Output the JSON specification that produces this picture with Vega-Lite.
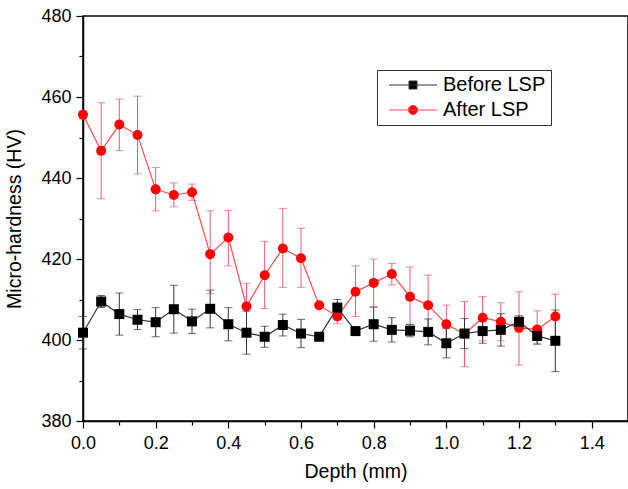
{
  "$schema": "https://vega.github.io/schema/vega-lite/v6.json",
  "width": 545,
  "height": 405,
  "autosize": {"type": "none"},
  "padding": {"left": 83, "top": 16, "right": 0, "bottom": 68},
  "background": "white",
  "config": {
    "view": {"stroke": "black", "strokeWidth": 1.5},
    "font": "Liberation Sans",
    "axis": {"domainColor": "black", "domainWidth": 1.5, "tickColor": "black", "tickWidth": 1.2, "labelColor": "black", "titleColor": "black", "labelFont": "Liberation Sans", "titleFont": "Liberation Sans", "labelFontSize": 18, "titleFontSize": 19.5, "titleFontWeight": "normal", "grid": false, "labelOverlap": false, "labelFlush": false},
    "legend": {"title": null, "orient": "none", "legendX": 294, "legendY": 54, "padding": 5,
      "strokeColor": "#333333", "fillColor": "white",
      "labelFont": "Liberation Sans", "labelFontSize": 20, "labelColor": "black",
      "symbolSize": 256, "symbolOffset": 21, "labelOffset": 20, "rowPadding": 5,
      "symbolOpacity": 1, "symbolStrokeWidth": 1}
  },
  "data": {"values": [
    {"s": "After LSP", "d": 0.0, "v": 455.6, "lo": 454.6, "hi": 456.6},
    {"s": "After LSP", "d": 0.05, "v": 446.7, "lo": 434.9, "hi": 458.6},
    {"s": "After LSP", "d": 0.1, "v": 453.2, "lo": 446.8, "hi": 459.5},
    {"s": "After LSP", "d": 0.15, "v": 450.6, "lo": 441.0, "hi": 460.2},
    {"s": "After LSP", "d": 0.2, "v": 437.2, "lo": 431.9, "hi": 442.6},
    {"s": "After LSP", "d": 0.25, "v": 435.8, "lo": 432.9, "hi": 438.8},
    {"s": "After LSP", "d": 0.3, "v": 436.5, "lo": 434.5, "hi": 438.5},
    {"s": "After LSP", "d": 0.35, "v": 421.2, "lo": 411.5, "hi": 431.9},
    {"s": "After LSP", "d": 0.4, "v": 425.3, "lo": 418.3, "hi": 432.0},
    {"s": "After LSP", "d": 0.45, "v": 408.3, "lo": 402.6, "hi": 414.0},
    {"s": "After LSP", "d": 0.5, "v": 416.0, "lo": 407.8, "hi": 424.3},
    {"s": "After LSP", "d": 0.55, "v": 422.6, "lo": 413.0, "hi": 432.5},
    {"s": "After LSP", "d": 0.6, "v": 420.2, "lo": 413.0, "hi": 427.6},
    {"s": "After LSP", "d": 0.65, "v": 408.6, "lo": 408.0, "hi": 409.2},
    {"s": "After LSP", "d": 0.7, "v": 405.8, "lo": 404.0, "hi": 407.6},
    {"s": "After LSP", "d": 0.75, "v": 411.9, "lo": 405.8, "hi": 418.3},
    {"s": "After LSP", "d": 0.8, "v": 414.1, "lo": 408.2, "hi": 420.0},
    {"s": "After LSP", "d": 0.85, "v": 416.3, "lo": 413.6, "hi": 418.9},
    {"s": "After LSP", "d": 0.9, "v": 410.7, "lo": 403.9, "hi": 418.0},
    {"s": "After LSP", "d": 0.95, "v": 408.6, "lo": 401.0, "hi": 416.0},
    {"s": "After LSP", "d": 1.0, "v": 403.9, "lo": 399.3, "hi": 408.6},
    {"s": "After LSP", "d": 1.05, "v": 401.5, "lo": 393.4, "hi": 409.5},
    {"s": "After LSP", "d": 1.1, "v": 405.5, "lo": 399.8, "hi": 410.7},
    {"s": "After LSP", "d": 1.15, "v": 404.5, "lo": 399.8, "hi": 409.2},
    {"s": "After LSP", "d": 1.2, "v": 403.0, "lo": 393.8, "hi": 411.9},
    {"s": "After LSP", "d": 1.25, "v": 402.6, "lo": 399.0, "hi": 407.2},
    {"s": "After LSP", "d": 1.3, "v": 405.8, "lo": 400.3, "hi": 411.3},
    {"s": "Before LSP", "d": 0.0, "v": 401.8, "lo": 397.8, "hi": 405.8},
    {"s": "Before LSP", "d": 0.05, "v": 409.5, "lo": 408.0, "hi": 411.0},
    {"s": "Before LSP", "d": 0.1, "v": 406.4, "lo": 401.2, "hi": 411.6},
    {"s": "Before LSP", "d": 0.15, "v": 405.0, "lo": 402.6, "hi": 407.5},
    {"s": "Before LSP", "d": 0.2, "v": 404.4, "lo": 400.8, "hi": 408.0},
    {"s": "Before LSP", "d": 0.25, "v": 407.6, "lo": 401.7, "hi": 413.5},
    {"s": "Before LSP", "d": 0.3, "v": 404.6, "lo": 401.6, "hi": 407.6},
    {"s": "Before LSP", "d": 0.35, "v": 407.7, "lo": 403.0, "hi": 412.3},
    {"s": "Before LSP", "d": 0.4, "v": 403.9, "lo": 399.8, "hi": 408.0},
    {"s": "Before LSP", "d": 0.45, "v": 401.8, "lo": 396.5, "hi": 407.1},
    {"s": "Before LSP", "d": 0.5, "v": 400.8, "lo": 398.2, "hi": 403.4},
    {"s": "Before LSP", "d": 0.55, "v": 403.7, "lo": 401.0, "hi": 406.4},
    {"s": "Before LSP", "d": 0.6, "v": 401.6, "lo": 398.1, "hi": 405.1},
    {"s": "Before LSP", "d": 0.65, "v": 400.8, "lo": 400.0, "hi": 401.6},
    {"s": "Before LSP", "d": 0.7, "v": 408.0, "lo": 406.0, "hi": 410.0},
    {"s": "Before LSP", "d": 0.75, "v": 402.2, "lo": 401.5, "hi": 402.9},
    {"s": "Before LSP", "d": 0.8, "v": 403.9, "lo": 399.7, "hi": 408.1},
    {"s": "Before LSP", "d": 0.85, "v": 402.5, "lo": 399.5, "hi": 405.5},
    {"s": "Before LSP", "d": 0.9, "v": 402.3, "lo": 400.8, "hi": 403.8},
    {"s": "Before LSP", "d": 0.95, "v": 402.0, "lo": 398.8, "hi": 405.2},
    {"s": "Before LSP", "d": 1.0, "v": 399.2, "lo": 395.6, "hi": 402.8},
    {"s": "Before LSP", "d": 1.05, "v": 401.6, "lo": 397.9, "hi": 405.3},
    {"s": "Before LSP", "d": 1.1, "v": 402.2, "lo": 399.2, "hi": 405.2},
    {"s": "Before LSP", "d": 1.15, "v": 402.5, "lo": 398.5, "hi": 406.5},
    {"s": "Before LSP", "d": 1.2, "v": 404.5, "lo": 403.0, "hi": 406.0},
    {"s": "Before LSP", "d": 1.25, "v": 401.0, "lo": 399.0, "hi": 403.0},
    {"s": "Before LSP", "d": 1.3, "v": 399.8, "lo": 392.2, "hi": 407.4}
  ]},
  "encoding": {
    "x": {"field": "d", "type": "quantitative", "scale": {"domain": [0, 1.5], "nice": false, "zero": false, "padding": 0},
      "axis": {"title": "Depth (mm)", "values": [0, 0.1, 0.2, 0.3, 0.4, 0.5, 0.6, 0.7, 0.8, 0.9, 1.0, 1.1, 1.2, 1.3, 1.4, 1.5],
        "labelExpr": "round(datum.value*10) % 2 == 0 ? format(datum.value, '.1f') : ''",
        "tickSize": {"condition": {"test": "round(datum.value*10) % 2 == 0", "value": 7}, "value": 4},
        "labelPadding": 6, "titlePadding": 10}}
  },
  "layer": [
    {
      "mark": {"type": "rule", "strokeWidth": 1},
      "encoding": {
        "y": {"field": "lo", "type": "quantitative", "scale": {"domain": [380, 480], "nice": false, "zero": false, "padding": 0},
          "axis": {"title": "Micro-hardness (HV)", "values": [380, 390, 400, 410, 420, 430, 440, 450, 460, 470, 480],
            "labelExpr": "datum.value % 20 == 0 ? datum.label : ''",
            "tickSize": {"condition": {"test": "datum.value % 20 == 0", "value": 7}, "value": 4},
            "labelPadding": 5, "titlePadding": 16}},
        "y2": {"field": "hi"},
        "color": {"condition": {"test": "datum.s == 'After LSP'", "value": "#f0587a"}, "value": "#333333"}
      }
    },
    {
      "mark": {"type": "tick", "orient": "horizontal", "size": 8, "thickness": 1},
      "encoding": {
        "y": {"field": "lo", "type": "quantitative"},
        "color": {"condition": {"test": "datum.s == 'After LSP'", "value": "#f0587a"}, "value": "#333333"}
      }
    },
    {
      "mark": {"type": "tick", "orient": "horizontal", "size": 8, "thickness": 1},
      "encoding": {
        "y": {"field": "hi", "type": "quantitative"},
        "color": {"condition": {"test": "datum.s == 'After LSP'", "value": "#f0587a"}, "value": "#333333"}
      }
    },
    {
      "mark": {"type": "line", "strokeWidth": 1.2},
      "encoding": {
        "y": {"field": "v", "type": "quantitative"},
        "detail": {"field": "s"},
        "color": {"condition": {"test": "datum.s == 'After LSP'", "value": "#ff4a4a"}, "value": "#333333"}
      }
    },
    {
      "transform": [{"filter": "datum.s == 'After LSP'"}],
      "mark": {"type": "point", "shape": "circle", "filled": true, "fill": "#ff0000", "opacity": 1, "strokeWidth": 0, "size": 100},
      "encoding": {
        "y": {"field": "v", "type": "quantitative"}
      }
    },
    {
      "transform": [{"filter": "datum.s == 'Before LSP'"}],
      "mark": {"type": "point", "shape": "square", "filled": true, "fill": "#000000", "opacity": 1, "strokeWidth": 0, "size": 100},
      "encoding": {
        "y": {"field": "v", "type": "quantitative"}
      }
    },
    {
      "mark": {"type": "point", "filled": true, "opacity": 0, "strokeWidth": 1, "size": 100},
      "encoding": {
        "y": {"field": "v", "type": "quantitative"},
        "shape": {"field": "s", "type": "nominal", "scale": {"domain": ["Before LSP", "After LSP"], "range": ["M-3,0H3M-0.5,-0.5H0.5V0.5H-0.5Z", "M-3,0H3M-0.58,0A0.58,0.58 0 1,0 0.58,0A0.58,0.58 0 1,0 -0.58,0Z"]}},
        "fill": {"field": "s", "type": "nominal", "scale": {"domain": ["Before LSP", "After LSP"], "range": ["#000000", "#ff0000"]}},
        "stroke": {"field": "s", "type": "nominal", "scale": {"domain": ["Before LSP", "After LSP"], "range": ["#333333", "#ff4a4a"]}}
      }
    }
  ]
}
